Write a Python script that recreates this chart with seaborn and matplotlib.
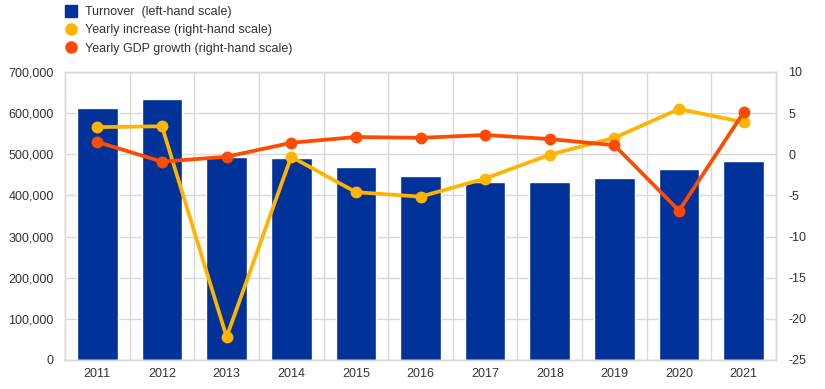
import matplotlib
matplotlib.use("Agg")
import matplotlib.pyplot as plt
import seaborn as sns
import pandas as pd
import numpy as np
from matplotlib.lines import Line2D
from matplotlib.ticker import FuncFormatter, FixedLocator

years = ["2011", "2012", "2013", "2014", "2015", "2016", "2017", "2018", "2019", "2020", "2021"]
turnover = [612500, 634000, 492500, 492000, 470000, 446500, 432000, 432000, 441500, 465000, 484500]
yearly_increase = [3.3, 3.4, -22.2, -0.3, -4.6, -5.15, -2.95, -0.05, 2.0, 5.5, 3.9]
gdp_growth = [1.5, -0.9, -0.3, 1.4, 2.1, 2.0, 2.35, 1.85, 1.1, -6.85, 5.1]

labels = ["Turnover  (left-hand scale)", "Yearly increase (right-hand scale)",
          "Yearly GDP growth (right-hand scale)"]

BLUE = "#003299"
YELLOW = "#FFB400"
RED = "#FF4B00"
GRID = "#D9D9D9"
TXT = "#333333"

sns.set_theme(style="white")
plt.rcParams['font.family'] = ['Liberation Sans', 'DejaVu Sans']
plt.rcParams['axes.unicode_minus'] = False

df = pd.DataFrame({"year": years, "turnover": turnover,
                   "inc": yearly_increase, "gdp": gdp_growth})

fig = plt.figure(figsize=(8.25, 3.89), dpi=100)
ax = fig.add_axes([65/825, 1-360/389, (776-65)/825, (360-72)/389])

sns.barplot(data=df, x="year", y="turnover", color=BLUE, width=0.63,
            saturation=1, ax=ax, zorder=2)
ax.set_ylim(0, 700000)
ax.set_yticks(np.arange(0, 700001, 100000))
ax.yaxis.set_major_formatter(FuncFormatter(lambda v, p: f"{int(v):,}"))
ax.set_xlim(-0.5, 10.5)
ax.set_xlabel("")
ax.set_ylabel("")
ax.set_axisbelow(True)
ax.grid(axis="y", color=GRID, linewidth=1)
ax.xaxis.set_minor_locator(FixedLocator(np.arange(0.5, 10, 1)))
ax.grid(axis="x", which="minor", color=GRID, linewidth=1)
ax.tick_params(axis="y", which="both", length=0, labelsize=9, colors=TXT, pad=8)
ax.tick_params(axis="x", which="both", length=0, labelsize=9, colors=TXT, pad=6)
for s in ax.spines.values():
    s.set_color(GRID)
    s.set_linewidth(1)

ax2 = ax.twinx()
sns.pointplot(data=df, x="year", y="inc", color=YELLOW, markers="o",
              markersize=6.5, linewidth=2.7, ax=ax2, zorder=3)
sns.pointplot(data=df, x="year", y="gdp", color=RED, markers="o",
              markersize=6.5, linewidth=2.7, ax=ax2, zorder=4)
ax2.set_ylim(-25, 10)
ax2.set_yticks(np.arange(-25, 11, 5))
ax2.set_xlim(-0.5, 10.5)
ax2.set_ylabel("")
ax2.set_xlabel("")
ax2.tick_params(axis="both", length=0, labelsize=9, colors=TXT, pad=9)
for s in ax2.spines.values():
    s.set_color(GRID)
    s.set_linewidth(1)

handles = [
    Line2D([], [], marker="s", linestyle="none", color=BLUE, markersize=8),
    Line2D([], [], marker="o", linestyle="none", color=YELLOW, markersize=8),
    Line2D([], [], marker="o", linestyle="none", color=RED, markersize=8),
]
fig.legend(handles, labels, loc="upper left", bbox_to_anchor=(0.065, 1.013),
           frameon=False, fontsize=9, handletextpad=0.6, labelspacing=0.5,
           handlelength=1.0, labelcolor=TXT)

fig.savefig("out.png", dpi=100)
